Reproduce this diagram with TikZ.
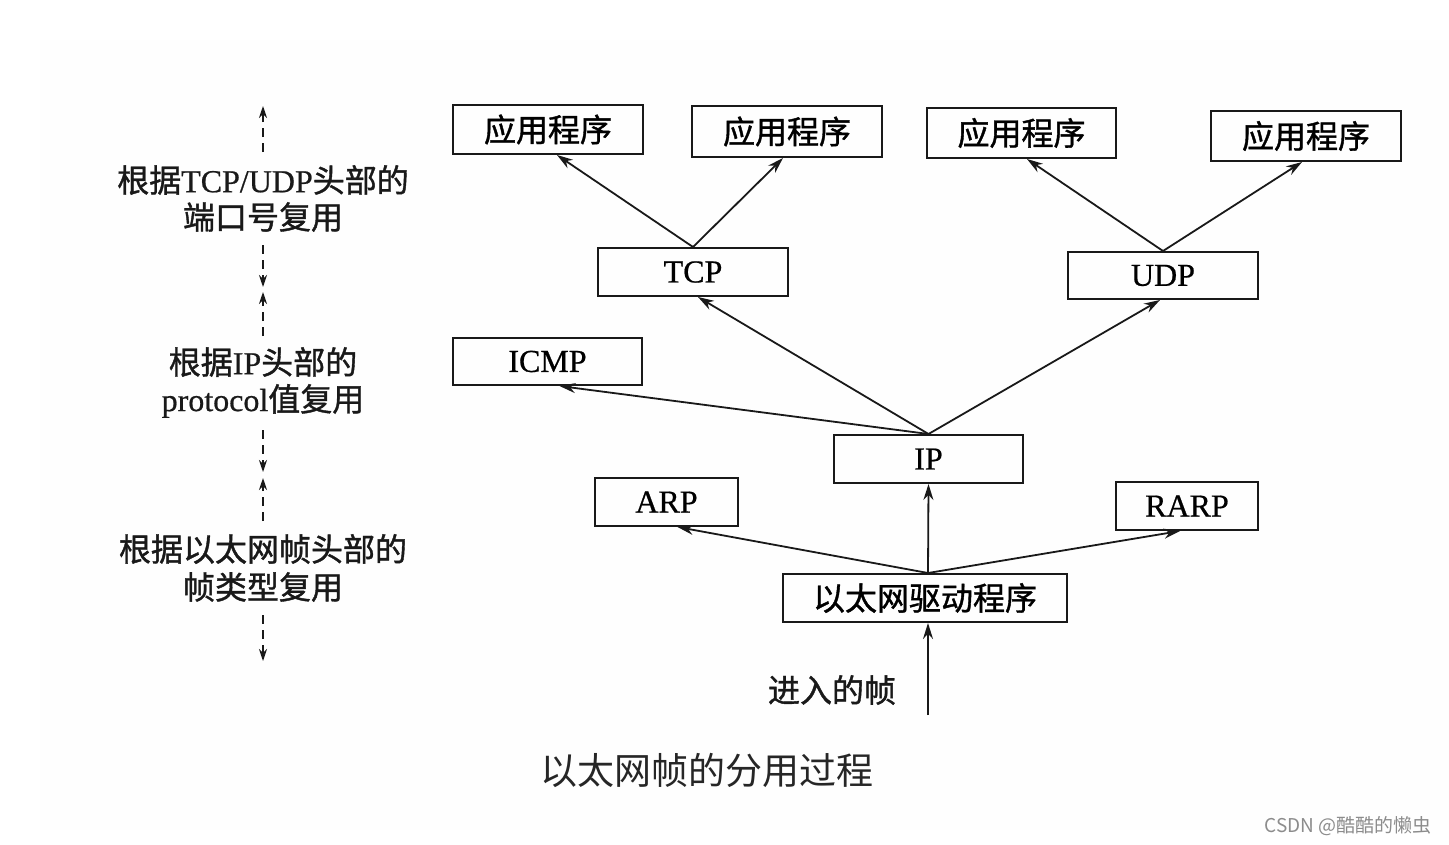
\documentclass[tikz,border=0pt]{standalone}
\usepackage{fontspec}
\setmainfont{Liberation Serif}[FakeBold=0.6]
\newfontfamily\cjk{Noto Sans CJK SC}[FakeBold=1.2]
\newfontfamily\cjkreg{Noto Sans CJK SC}
\usetikzlibrary{arrows.meta,calc}
\tikzset{
  box/.style={draw=black!90, line width=2pt, inner sep=0pt, minimum height=48pt,
    font=\fontsize{32}{38}\selectfont},
  lbl/.style={inner sep=0pt, font=\fontsize{32}{38}\selectfont, text=black!90},
  arr/.style={draw=black!90, line width=1.8pt, -{Stealth[length=16pt,width=10pt]}},
  darr/.style={draw=black!90, line width=1.6pt, dash pattern=on 9pt off 6pt,
    -{Stealth[length=12pt,width=8pt]}},
}
\begin{document}
\begin{tikzpicture}[x=1pt,y=-1pt]
\useasboundingbox (0,0) rectangle (1449,844);
\fill[black!0.4] (40,40) rectangle (1449,830);
% boxes
\node[box, minimum width=190pt, minimum height=49pt] (app1) at (548,129.5) {\cjk 应用程序};
\node[box, minimum width=190pt, minimum height=51pt] (app2) at (787,131.5) {\cjk 应用程序};
\node[box, minimum width=189pt, minimum height=50pt] (app3) at (1021.5,133) {\cjk 应用程序};
\node[box, minimum width=190pt, minimum height=50pt] (app4) at (1306,136) {\cjk 应用程序};
\node[box, minimum width=190pt] (tcp) at (693,272) {TCP};
\node[box, minimum width=190pt, minimum height=47pt] (udp) at (1163,275.5) {UDP};
\node[box, minimum width=189pt, minimum height=47pt] (icmp) at (547.5,361.5) {ICMP};
\node[box, minimum width=189pt] (ip) at (928.5,459) {IP};
\node[box, minimum width=143pt] (arp) at (666.5,502) {ARP};
\node[box, minimum width=142pt] (rarp) at (1187,506) {RARP};
\node[box, minimum width=284pt] (drv) at (925,598) {\cjk 以太网驱动程序};
\node[lbl] (inlbl) at (832,690) {\cjk 进入的帧};
\coordinate (in) at (928,715);
% arrows
\draw[arr] (tcp.north) -- ($(app1.south)+(9,0)$);
\draw[arr] (tcp.north) -- ($(app2.south)+(-4,0)$);
\draw[arr] (udp.north) -- ($(app3.south)+(5.5,0)$);
\draw[arr] (udp.north) -- ($(app4.south)+(-4,0)$);
\draw[arr] (ip.north) -- ($(icmp.south)+(12,0)$);
\draw[arr] (ip.north) -- ($(tcp.south)+(5,0)$);
\draw[arr] (ip.north) -- ($(udp.south)+(-3,0)$);
\draw[arr] ($(drv.north)+(3,0)$) -- ($(arp.south)+(11,0)$);
\draw[arr] ($(drv.north)+(3,0)$) -- ($(rarp.south)+(-7,0)$);
\draw[arr] ($(drv.north)+(3,0)$) -- (ip.south);
\draw[arr] (in) -- ($(drv.south)+(3,0)$);
% left labels
\node[lbl] (l1a) at (263,180) {{\cjk 根据}TCP/UDP{\cjk 头部的}};
\node[lbl] (l1b) at (263,217) {\cjk 端口号复用};
\node[lbl] (l2a) at (263,362) {{\cjk 根据}IP{\cjk 头部的}};
\node[lbl] (l2b) at (263,401) {protocol{\cjk 值复用}};
\node[lbl] (l3a) at (263,549) {\cjk 根据以太网帧头部的};
\node[lbl] (l3b) at (263,587) {\cjk 帧类型复用};
\coordinate (d1s) at (263,152); \coordinate (d1e) at (263,106);
\coordinate (d2s) at (263,245); \coordinate (d2e) at (263,287);
\coordinate (d3s) at (263,336); \coordinate (d3e) at (263,292);
\coordinate (d4s) at (263,430); \coordinate (d4e) at (263,472);
\coordinate (d5s) at (263,521); \coordinate (d5e) at (263,478);
\coordinate (d6s) at (263,615); \coordinate (d6e) at (263,661);
\draw[darr] (d1s) -- (d1e);
\draw[darr] (d2s) -- (d2e);
\draw[darr] (d3s) -- (d3e);
\draw[darr] (d4s) -- (d4e);
\draw[darr] (d5s) -- (d5e);
\draw[darr] (d6s) -- (d6e);
% caption
\node[inner sep=0pt, font=\fontsize{37}{42}\selectfont, text=black!85] (cap) at (707,770) {\cjkreg 以太网帧的分用过程};
\node[inner sep=0pt, font=\fontsize{19}{22}\selectfont, text=black!45] (wm) at (1348,826) {\cjkreg CSDN @酷酷的懒虫};
\end{tikzpicture}
\end{document}
